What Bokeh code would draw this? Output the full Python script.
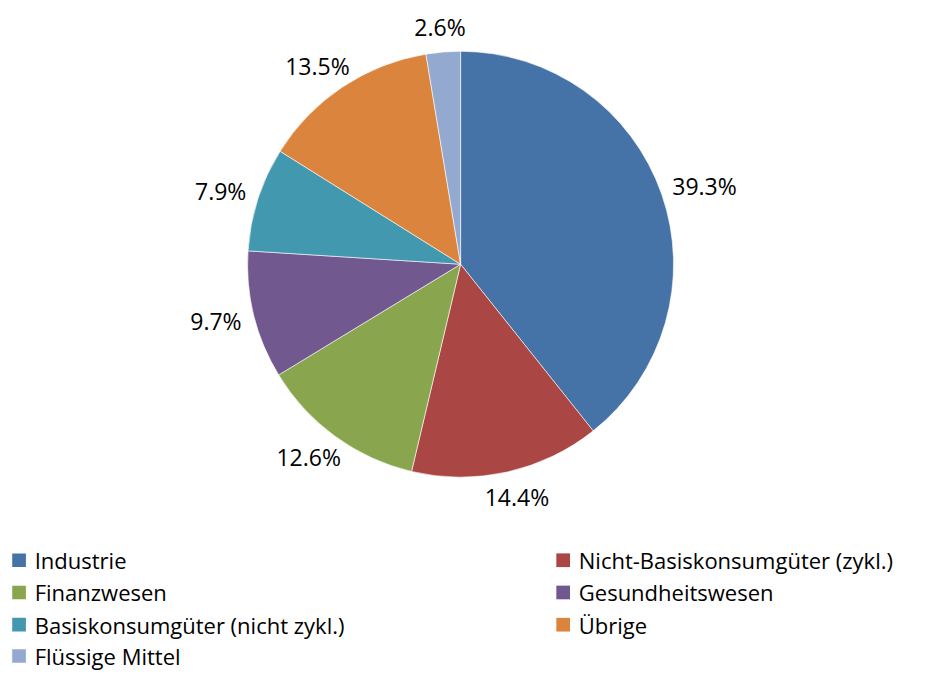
import numpy as np
from bokeh.plotting import figure
from bokeh.models import Range1d, ColumnDataSource
from bokeh.core.properties import value
from bokeh.embed import file_html
from bokeh.resources import INLINE

categories = ["Industrie", "Nicht-Basiskonsumgüter (zykl.)", "Finanzwesen",
              "Gesundheitswesen", "Basiskonsumgüter (nicht zykl.)", "Übrige",
              "Flüssige Mittel"]
shares = [39.3, 14.4, 12.6, 9.7, 7.9, 13.5, 2.6]
colors = ["#4572A7", "#AA4643", "#89A54E", "#71588F", "#4198AF", "#DB843D", "#93A9CF"]

W, H = 925, 675
FONT = "Open Sans"
s = H / 691.0  # uniform scale of the layout into the drawable area

p = figure(width=W, height=H, output_backend="svg", toolbar_location=None,
           x_range=Range1d(0, W), y_range=Range1d(0, H), min_border=0)
p.axis.visible = False
p.grid.visible = False
p.outline_line_color = None


def X(ix):
    return ix * s


def Y(iy):
    return H - iy * s


cx, cy, r = X(471), Y(270), 218 * s
frac = np.array(shares) / sum(shares)
cum = np.concatenate([[0], np.cumsum(frac)])
start = np.pi / 2 - cum[:-1] * 2 * np.pi
end = np.pi / 2 - cum[1:] * 2 * np.pi
mid = (start + end) / 2

src = ColumnDataSource(dict(start=start, end=end, color=colors))
p.wedge(x=cx, y=cy, radius=r, start_angle="start", end_angle="end",
        direction="clock", fill_color="color", line_color="white",
        line_width=0.6, source=src)

labels = [f"{v:.1f}%" for v in shares]
ux, uy = np.cos(mid), np.sin(mid)
tw = np.array([13.0 * len(t) for t in labels]) * s
th = 24 * s
gap = 14 * s
lx = cx + (r + gap) * ux + tw / 2 * ux
ly = cy + (r + gap) * uy + th / 2 * uy
p.text(x=lx, y=ly, text=labels, text_align="center", text_baseline="middle",
       text_font=value(FONT), text_font_size="23px", text_color="black")

# legend in two columns
col_x = [X(12), X(569)]
row_y = [Y(573), Y(606), Y(639), Y(671)]
lgx, lgy = [], []
for i in range(len(categories)):
    lgx.append(col_x[i % 2])
    lgy.append(row_y[i // 2])
lgx = np.array(lgx, dtype=float)
lgy = np.array(lgy, dtype=float)
sq = 14 * s
p.rect(x=lgx + sq / 2, y=lgy, width=sq, height=sq, fill_color=colors, line_color=None)
p.text(x=lgx + 23 * s, y=lgy, text=categories, text_align="left", text_baseline="middle",
       text_font=value(FONT), text_font_size="22px", text_color="black")

open("out.html", "w").write(file_html(p, INLINE))
